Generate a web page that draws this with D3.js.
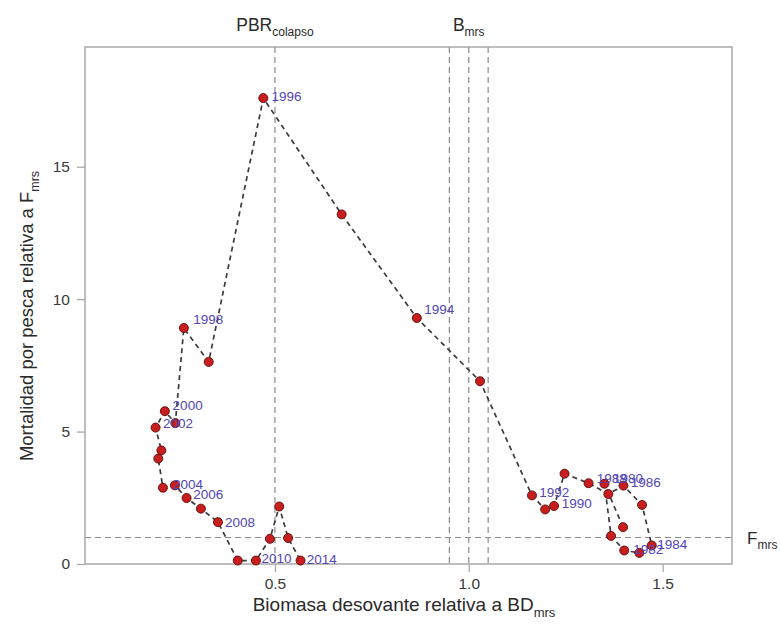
<!DOCTYPE html>
<html>
<head>
<meta charset="utf-8">
<script src="https://cdn.jsdelivr.net/npm/d3@7"></script>
<style>
  html, body { margin: 0; padding: 0; background: #ffffff; }
  svg { display: block; font-family: "Liberation Sans", Arial, Helvetica, sans-serif; }
</style>
</head>
<body>
<svg id="chart" width="781" height="631"></svg>
<script>
// ---- Data ----
const years = [1979,1980,1981,1982,1983,1984,1985,1986,1987,1988,1989,1990,1991,1992,
  1993,1994,1995,1996,1997,1998,1999,2000,2001,2002,2003,2004,2005,2006,2007,2008,
  2009,2010,2011,2012,2013,2014];
const biomass = [1.398,1.350,1.367,1.401,1.440,1.472,1.447,1.399,1.360,1.309,1.247,1.220,1.197,1.163,
  1.029,0.866,0.672,0.470,0.329,0.265,0.243,0.216,0.192,0.207,0.199,0.211,0.242,0.272,0.309,0.353,
  0.404,0.451,0.487,0.511,0.534,0.566];
const fishing = [1.39,3.03,1.06,0.51,0.42,0.70,2.23,2.96,2.64,3.05,3.41,2.19,2.06,2.59,
  6.90,9.29,13.20,17.59,7.63,8.91,5.32,5.77,5.15,4.29,3.98,2.88,2.97,2.49,2.09,1.58,
  0.13,0.13,0.95,2.17,0.98,0.13];

// year labels and the data position where each label starts
const labelText = ["1980","1982","1984","1986","1988","1990","1992","1994","1996","1998",
  "2000","2002","2004","2006","2008","2010","2014"];
const labelX = [1.372,1.424,1.486,1.418,1.330,1.240,1.182,0.885,0.491,0.289,
  0.236,0.211,0.237,0.289,0.371,0.465,0.582];
const labelY = [3.25,0.57,0.73,3.09,3.25,2.30,2.71,9.60,17.65,9.24,
  6.00,5.33,3.00,2.65,1.58,0.20,0.16];

const xTicks = [0.5, 1.0, 1.5];
const yTicks = [0, 5, 10, 15];
const refX = [0.5, 0.95, 1.0, 1.05];   // PBR colapso and B_mrs band
const refY = [1];                      // F_mrs
const xDomain = [0.01, 1.679];
const yDomain = [0, 19.52];

// ---- Layout ----
const svg = d3.select("#chart");
const pL = 85, pR = 732, pT = 47, pB = 564;

const x = d3.scaleLinear().domain(xDomain).range([pL, pR]);
const y = d3.scaleLinear().domain(yDomain).range([pB, pT]);

const pts = years.map((yr, i) => ({ yr, b: biomass[i], f: fishing[i] }));

// reference lines
svg.append("g").selectAll("line").data(refX).join("line")
  .attr("x1", d => x(d)).attr("x2", d => x(d))
  .attr("y1", pT).attr("y2", pB)
  .attr("stroke", "#8a8a8a").attr("stroke-width", 1.2)
  .attr("stroke-dasharray", "6,4");
svg.append("g").selectAll("line").data(refY).join("line")
  .attr("x1", pL).attr("x2", pR)
  .attr("y1", d => y(d)).attr("y2", d => y(d))
  .attr("stroke", "#8a8a8a").attr("stroke-width", 1.2)
  .attr("stroke-dasharray", "6,4");

// frame
svg.append("rect")
  .attr("x", pL).attr("y", pT)
  .attr("width", pR - pL).attr("height", pB - pT)
  .attr("fill", "none").attr("stroke", "#a8a8a8").attr("stroke-width", 1.5);

// axes
const xAxis = svg.append("g").attr("transform", `translate(0,${pB})`)
  .call(d3.axisBottom(x).tickValues(xTicks).tickFormat(d3.format(".1f")).tickSize(8).tickPadding(6));
const yAxis = svg.append("g").attr("transform", `translate(${pL},0)`)
  .call(d3.axisLeft(y).tickValues(yTicks).tickFormat(d3.format("d")).tickSize(8).tickPadding(7));
[xAxis, yAxis].forEach(g => {
  g.select(".domain").remove();
  g.selectAll(".tick line").attr("stroke", "#a8a8a8").attr("stroke-width", 1.3);
  g.selectAll(".tick text").attr("fill", "#3a3a3a").attr("font-size", 15.5)
    .attr("font-family", "Liberation Sans, Arial, sans-serif");
});

// trajectory
const line = d3.line().x(d => x(d.b)).y(d => y(d.f));
svg.append("path").datum(pts)
  .attr("d", line)
  .attr("fill", "none")
  .attr("stroke", "#3c3c3c").attr("stroke-width", 1.7)
  .attr("stroke-dasharray", "5,4");

// points
svg.append("g").selectAll("circle").data(pts).join("circle")
  .attr("cx", d => x(d.b)).attr("cy", d => y(d.f)).attr("r", 4.5)
  .attr("fill", "#c81e1e").attr("stroke", "#5a0a0a").attr("stroke-width", 0.9);

// year labels
svg.append("g").selectAll("text").data(labelText).join("text")
  .attr("x", (d, i) => x(labelX[i])).attr("y", (d, i) => y(labelY[i]))
  .attr("dy", "0.35em")
  .attr("font-size", 13.5).attr("fill", "#5046b4")
  .text(d => d);

// helper for subscripted text
function subText(g, main, sub, size, subSize) {
  const t = g.append("text").attr("font-size", size).attr("fill", "#2a2a2a");
  t.append("tspan").text(main);
  t.append("tspan").attr("font-size", subSize).attr("dy", size * 0.3).text(sub);
  return t;
}

// top labels
subText(svg, "PBR", "colapso", 17.5, 12)
  .attr("x", x(0.5)).attr("y", 31).attr("text-anchor", "middle");
subText(svg, "B", "mrs", 17.5, 12)
  .attr("x", x(1.0)).attr("y", 31).attr("text-anchor", "middle");

// right label F_mrs
subText(svg, "F", "mrs", 17, 12)
  .attr("x", 747).attr("y", y(1) + 6).attr("text-anchor", "start");

// axis titles
subText(svg, "Biomasa desovante relativa a BD", "mrs", 19, 13)
  .attr("x", 404).attr("y", 611).attr("text-anchor", "middle");
subText(svg, "Mortalidad por pesca relativa a F", "mrs", 18.5, 12.5)
  .attr("text-anchor", "middle")
  .attr("transform", `translate(33,316) rotate(-90)`);
</script>
</body>
</html>
